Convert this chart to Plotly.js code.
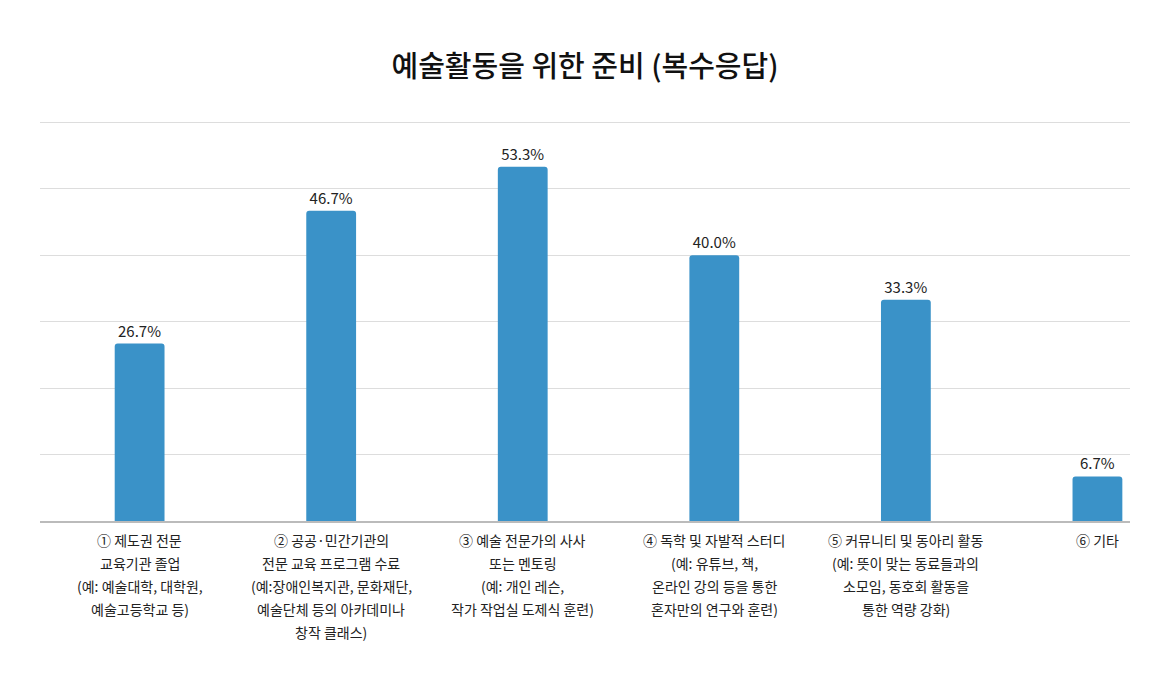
<!DOCTYPE html>
<html>
<head>
<meta charset="utf-8">
<script src="https://cdn.plot.ly/plotly-3.0.1.min.js"></script>
<style>
html,body{margin:0;padding:0;background:#fff;}
#chart{width:1170px;height:680px;}
</style>
</head>
<body>
<div id="chart"></div>
<script>
const categories = [
  "① 제도권 전문<br>교육기관 졸업<br>(예: 예술대학, 대학원,<br>예술고등학교 등)",
  "② 공공·민간기관의<br>전문 교육 프로그램 수료<br>(예:장애인복지관, 문화재단,<br>예술단체 등의 아카데미나<br>창작 클래스)",
  "③ 예술 전문가의 사사<br>또는 멘토링<br>(예: 개인 레슨,<br>작가 작업실 도제식 훈련)",
  "④ 독학 및 자발적 스터디<br>(예: 유튜브, 책,<br>온라인 강의 등을 통한<br>혼자만의 연구와 훈련)",
  "⑤ 커뮤니티 및 동아리 활동<br>(예: 뜻이 맞는 동료들과의<br>소모임, 동호회 활동을<br>통한 역량 강화)",
  "⑥ 기타"
];
const values = [26.7, 46.7, 53.3, 40.0, 33.3, 6.7];
const valueLabels = values.map(v => v.toFixed(1) + "%");
const titleText = "예술활동을 위한 준비 (복수응답)";

const font = "Noto Sans CJK KR, Noto Sans, sans-serif";

// category labels drawn line by line for wider line spacing
const annotations = [];
categories.forEach(cat => {
  cat.split("<br>").forEach((line, i) => {
    annotations.push({
      x: cat, xref: "x",
      y: 0, yref: "paper",
      yanchor: "middle", xanchor: "center",
      yshift: -(19 + 23 * i),
      text: line,
      showarrow: false,
      font: {family: font, size: 14, color: "#222"}
    });
  });
});

Plotly.newPlot("chart", [{
  type: "bar",
  x: categories,
  y: values,
  text: valueLabels,
  textposition: "outside",
  cliponaxis: false,
  textfont: {family: font, size: 15, color: "#222"},
  marker: {color: "#3a92c8", cornerradius: 3},
  width: 0.26,
  hoverinfo: "skip"
}], {
  width: 1170,
  height: 680,
  margin: {l: 40, r: 40, t: 119, b: 159},
  paper_bgcolor: "#fff",
  plot_bgcolor: "#fff",
  title: {
    text: titleText,
    font: {family: font, size: 29, color: "#111", weight: 500},
    x: 0.5, xanchor: "center",
    y: 0.901, yanchor: "middle", yref: "container"
  },
  showlegend: false,
  annotations: annotations,
  xaxis: {
    type: "category",
    range: [-0.52, 5.17],
    showgrid: false,
    showline: true,
    linecolor: "#bbbbbb",
    linewidth: 2,
    ticks: "",
    showticklabels: false,
    fixedrange: true
  },
  yaxis: {
    range: [0, 60.5],
    tick0: 0,
    dtick: 10,
    showticklabels: false,
    showgrid: true,
    gridcolor: "#dddddd",
    gridwidth: 1,
    zeroline: false,
    fixedrange: true
  }
}, {displayModeBar: false, staticPlot: true});
</script>
</body>
</html>
